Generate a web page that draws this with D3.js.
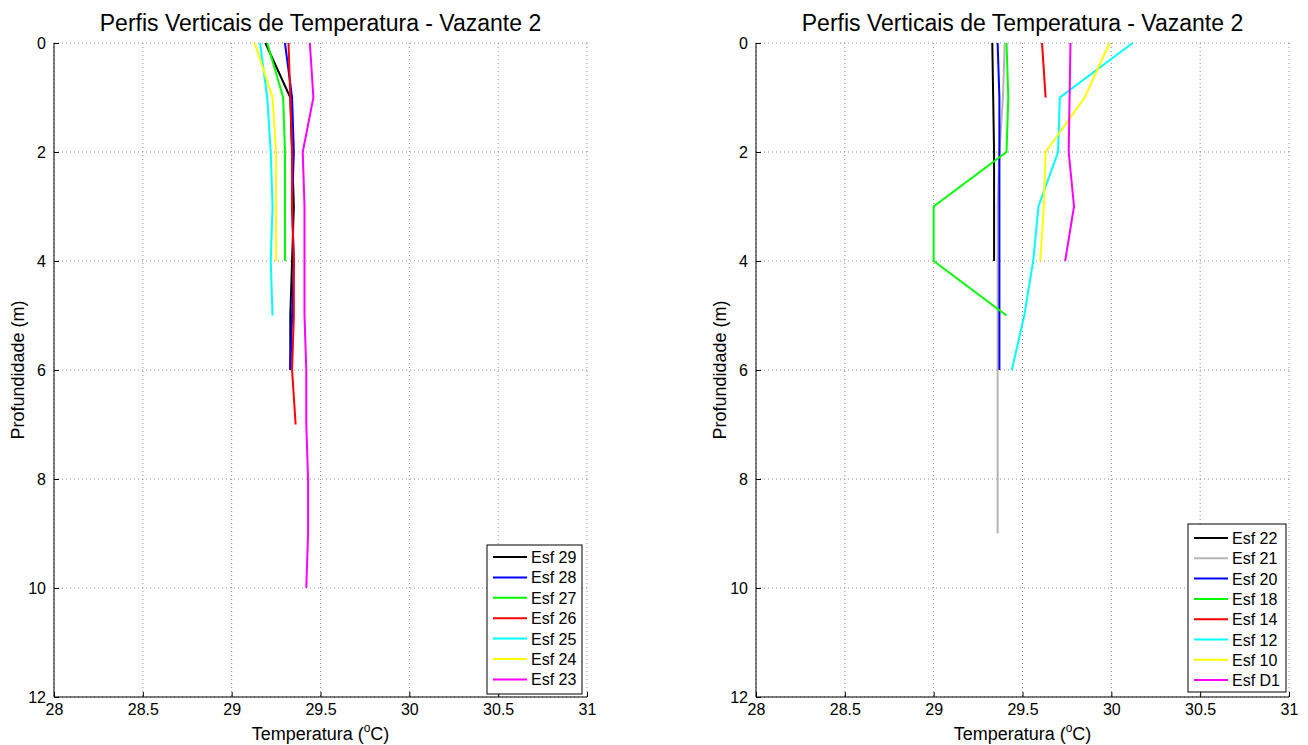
<!DOCTYPE html>
<html><head><meta charset="utf-8">
<script src="https://cdn.jsdelivr.net/npm/d3@7"></script>
<style>body{margin:0;background:#fff}svg{font-family:"Liberation Sans",Arial,sans-serif}</style>
</head><body><svg id="c" width="1308" height="745"></svg>
<script>
const xTicks = [28, 28.5, 29, 29.5, 30, 30.5, 31];
const yTicks = [0, 2, 4, 6, 8, 10, 12];
const titleText = "Perfis Verticais de Temperatura - Vazante 2";

// Left panel
const leftNames = ["Esf 29", "Esf 28", "Esf 27", "Esf 26", "Esf 25", "Esf 24", "Esf 23"];
const leftColors = ["#000000", "#0000ff", "#00ff00", "#ff0000", "#00ffff", "#ffff00", "#ff00ff"];
const leftDepths = [
  [0, 1, 2, 3, 4, 5, 6],
  [0, 1, 2, 3, 4, 5, 6],
  [0, 1, 2, 3, 4],
  [0, 1, 2, 3, 4, 5, 6, 7],
  [0, 1, 2, 3, 4, 5],
  [0, 1, 2, 3, 4],
  [0, 1, 2, 3, 4, 5, 6, 7, 8, 9, 10]
];
const leftTemps = [
  [29.19, 29.33, 29.34, 29.35, 29.34, 29.33, 29.33],
  [29.30, 29.34, 29.35, 29.34, 29.35, 29.34, 29.33],
  [29.20, 29.29, 29.30, 29.30, 29.30],
  [29.32, 29.33, 29.34, 29.34, 29.35, 29.35, 29.34, 29.36],
  [29.16, 29.20, 29.22, 29.23, 29.22, 29.23],
  [29.13, 29.23, 29.25, 29.25, 29.25],
  [29.44, 29.46, 29.40, 29.41, 29.41, 29.41, 29.42, 29.42, 29.43, 29.43, 29.42]
];

// Right panel
const rightNames = ["Esf 22", "Esf 21", "Esf 20", "Esf 18", "Esf 14", "Esf 12", "Esf 10", "Esf D1"];
const rightColors = ["#000000", "#b4b4b4", "#0000ff", "#00ff00", "#ff0000", "#00ffff", "#ffff00", "#ff00ff"];
const rightDepths = [
  [0, 1, 2, 3, 4],
  [0, 1, 2, 3, 4, 5, 6, 7, 8, 9],
  [0, 1, 2, 3, 4, 5, 6],
  [0, 1, 2, 3, 4, 5],
  [0, 1],
  [0, 1, 2, 3, 4, 5, 6],
  [0, 1, 2, 3, 4],
  [0, 1, 2, 3, 4]
];
const rightTemps = [
  [29.33, 29.335, 29.34, 29.34, 29.34],
  [29.40, 29.39, 29.37, 29.36, 29.36, 29.36, 29.36, 29.36, 29.36, 29.36],
  [29.36, 29.37, 29.37, 29.37, 29.37, 29.37, 29.37],
  [29.41, 29.42, 29.41, 29.00, 29.00, 29.41],
  [29.61, 29.63],
  [30.12, 29.71, 29.70, 29.59, 29.56, 29.51, 29.44],
  [29.99, 29.85, 29.63, 29.62, 29.60],
  [29.77, 29.765, 29.76, 29.79, 29.74]
];

const svg = d3.select("#c");

function panel(x0, x1, names, colors, depths, temps, leg) {
  const y0 = 43, y1 = 697;
  const x = d3.scaleLinear().domain([28, 31]).range([x0, x1]);
  const y = d3.scaleLinear().domain([0, 12]).range([y0, y1]);
  const g = svg.append("g");

  // grid
  g.selectAll(".gx").data(xTicks).enter().append("line")
    .attr("x1", d => x(d)).attr("x2", d => x(d)).attr("y1", y0).attr("y2", y1)
    .attr("stroke", "#8c8c8c").attr("stroke-width", 1).attr("stroke-dasharray", "1,3");
  g.selectAll(".gy").data(yTicks).enter().append("line")
    .attr("y1", d => y(d)).attr("y2", d => y(d)).attr("x1", x0).attr("x2", x1)
    .attr("stroke", "#8c8c8c").attr("stroke-width", 1).attr("stroke-dasharray", "1,3");

  // lines
  const line = d3.line().x(d => x(d[1])).y(d => y(d[0]));
  names.forEach((n, i) => {
    const pts = depths[i].map((dd, k) => [dd, temps[i][k]]);
    g.append("path").datum(pts).attr("d", line).attr("fill", "none")
      .attr("stroke", colors[i]).attr("stroke-width", 2).attr("stroke-linejoin", "miter");
  });

  // axes
  const ax = d3.axisBottom(x).tickValues(xTicks).tickSize(-5).tickPadding(7).tickFormat(d3.format("~g"));
  const gx = g.append("g").attr("transform", `translate(0,${y1})`).call(ax);
  const ay = d3.axisLeft(y).tickValues(yTicks).tickSize(-5).tickPadding(8).tickFormat(d3.format("~g"));
  const gy = g.append("g").attr("transform", `translate(${x0},0)`).call(ay);
  [gx, gy].forEach(a => {
    a.select(".domain").attr("stroke", "#000").attr("stroke-width", 1);
    a.selectAll(".tick line").attr("stroke", "#000");
    a.selectAll("text").attr("font-size", 16).attr("fill", "#000").attr("font-family", "Liberation Sans, Arial, sans-serif");
  });
  gx.select(".domain").attr("d", `M${x0},0H${x1}`);
  gy.select(".domain").attr("d", `M0,${y0}V${y1}`);

  // title
  g.append("text").attr("x", (x0 + x1) / 2).attr("y", 31).attr("text-anchor", "middle")
    .attr("font-size", 23).text(titleText);
  // x label
  const xl = g.append("text").attr("x", (x0 + x1) / 2).attr("y", 740).attr("text-anchor", "middle").attr("font-size", 18);
  xl.append("tspan").text("Temperatura (");
  xl.append("tspan").attr("font-size", 12).attr("dy", -8).text("o");
  xl.append("tspan").attr("dy", 8).text("C)");
  // y label
  g.append("text").attr("transform", `translate(${x0 - 30},${(y0 + y1) / 2}) rotate(-90)`)
    .attr("text-anchor", "middle").attr("font-size", 18).text("Profundidade (m)");

  // legend
  const lg = g.append("g");
  lg.append("rect").attr("x", leg.x).attr("y", leg.y).attr("width", leg.w).attr("height", leg.h)
    .attr("fill", "#fff").attr("stroke", "#000").attr("stroke-width", 1);
  names.forEach((n, i) => {
    const yy = leg.y + leg.first + i * leg.step;
    lg.append("line").attr("x1", leg.x + 6).attr("x2", leg.x + 40).attr("y1", yy).attr("y2", yy)
      .attr("stroke", colors[i]).attr("stroke-width", 2);
    lg.append("text").attr("x", leg.x + 44).attr("y", yy + 6).attr("font-size", 16).text(n);
  });
}

panel(54, 587, leftNames, leftColors, leftDepths, leftTemps, {x: 487, y: 545, w: 95, h: 149, first: 12, step: 20.4});
panel(756, 1289, rightNames, rightColors, rightDepths, rightTemps, {x: 1188, y: 524, w: 98, h: 168, first: 14, step: 20.3});
</script></body></html>
